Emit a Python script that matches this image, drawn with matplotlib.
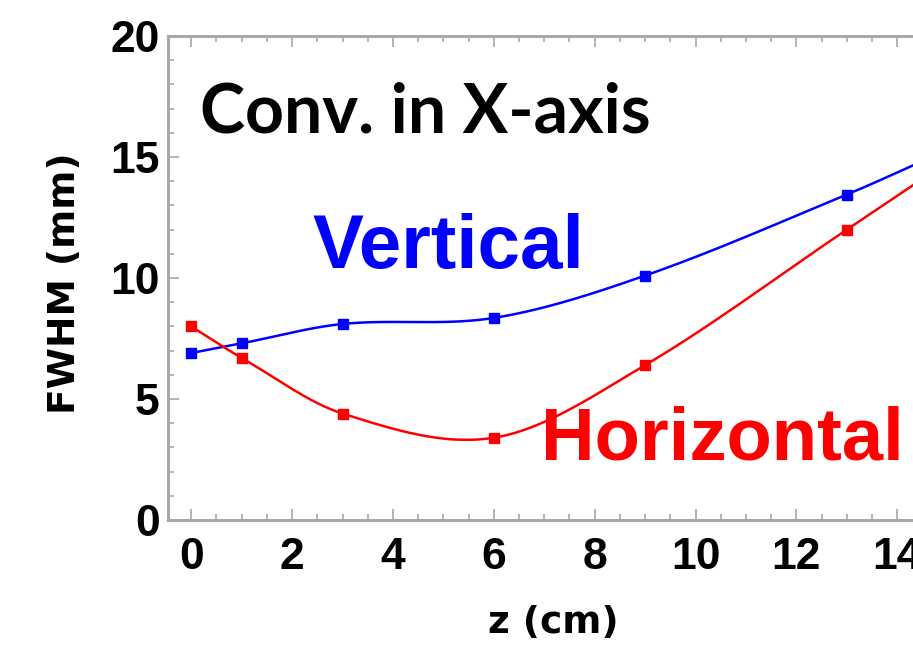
import numpy as np
import matplotlib.pyplot as plt
from matplotlib.ticker import MultipleLocator

# FWHM of the beam spot along z, convergence in X
z = [0, 1, 3, 6, 9, 13, 15]
fwhm_vertical = [6.9, 7.3, 8.1, 8.35, 10.1, 13.45, 15.3]
fwhm_horizontal = [8.0, 6.7, 4.4, 3.4, 6.4, 12.0, 14.8]


def smooth_curve(x, y, n=400):
    """Cubic Hermite curve through the points, centred-difference slopes."""
    x = np.asarray(x, float)
    y = np.asarray(y, float)
    m = np.empty_like(y)
    m[1:-1] = (y[2:] - y[:-2]) / (x[2:] - x[:-2])
    m[0] = (y[1] - y[0]) / (x[1] - x[0])
    m[-1] = (y[-1] - y[-2]) / (x[-1] - x[-2])
    xs = np.linspace(x[0], x[-1], n)
    k = np.clip(np.searchsorted(x, xs) - 1, 0, len(x) - 2)
    h = x[k + 1] - x[k]
    t = (xs - x[k]) / h
    h00 = 2 * t**3 - 3 * t**2 + 1
    h10 = t**3 - 2 * t**2 + t
    h01 = -2 * t**3 + 3 * t**2
    h11 = t**3 - t**2
    ys = h00 * y[k] + h10 * h * m[k] + h01 * y[k + 1] + h11 * h * m[k + 1]
    return xs, ys


fig = plt.figure(figsize=(9.13, 6.5), dpi=100)
ax = fig.add_axes([0.184, 0.2, 0.843, 0.7446])

frame = "#a8a8a8"
for color, vals in [("#0000ff", fwhm_vertical), ("#ff0000", fwhm_horizontal)]:
    xs, ys = smooth_curve(z, vals)
    ax.plot(xs, ys, color=color, lw=1.8)
    ax.plot(z, vals, "s", color=color, ms=7.5)

ax.set_xlim(-0.46, 14.8)
ax.set_ylim(0, 20)
ax.xaxis.set_major_locator(MultipleLocator(2))
ax.xaxis.set_minor_locator(MultipleLocator(0.5))
ax.yaxis.set_major_locator(MultipleLocator(5))
ax.yaxis.set_minor_locator(MultipleLocator(1))
ax.tick_params(which="both", direction="in", color=frame, top=True, right=True,
               width=1.2)
ax.tick_params(which="major", length=8, labelsize=32)
ax.tick_params(which="minor", length=4)
ax.tick_params(axis="x", which="major", pad=12)
ax.tick_params(axis="y", which="major", pad=6)
for lab in ax.get_xticklabels() + ax.get_yticklabels():
    lab.set_fontfamily("Liberation Sans")
    lab.set_fontweight("bold")
for sp in ax.spines.values():
    sp.set_color(frame)
    sp.set_linewidth(2.2)

ax.set_xlabel("z (cm)", fontsize=27, fontweight="bold", family="DejaVu Sans")
ax.set_ylabel("FWHM (mm)", fontsize=27, fontweight="bold", family="DejaVu Sans")
ax.xaxis.set_label_coords(0.5, -0.176)
ax.yaxis.set_label_coords(-0.11, 0.49)

ax.text(0.18, 16.0, "Conv. in X-axis", fontsize=49, fontweight="bold",
        family="Lato", color="black", va="baseline")
ax.text(2.4, 10.4, "Vertical", fontsize=55, fontweight="bold",
        family="Liberation Sans", color="#0000ff", va="baseline")
ax.text(6.93, 2.48, "Horizontal", fontsize=53.5, fontweight="bold",
        family="Liberation Sans", color="#ff0000", va="baseline")

fig.savefig("out.png", dpi=100)
